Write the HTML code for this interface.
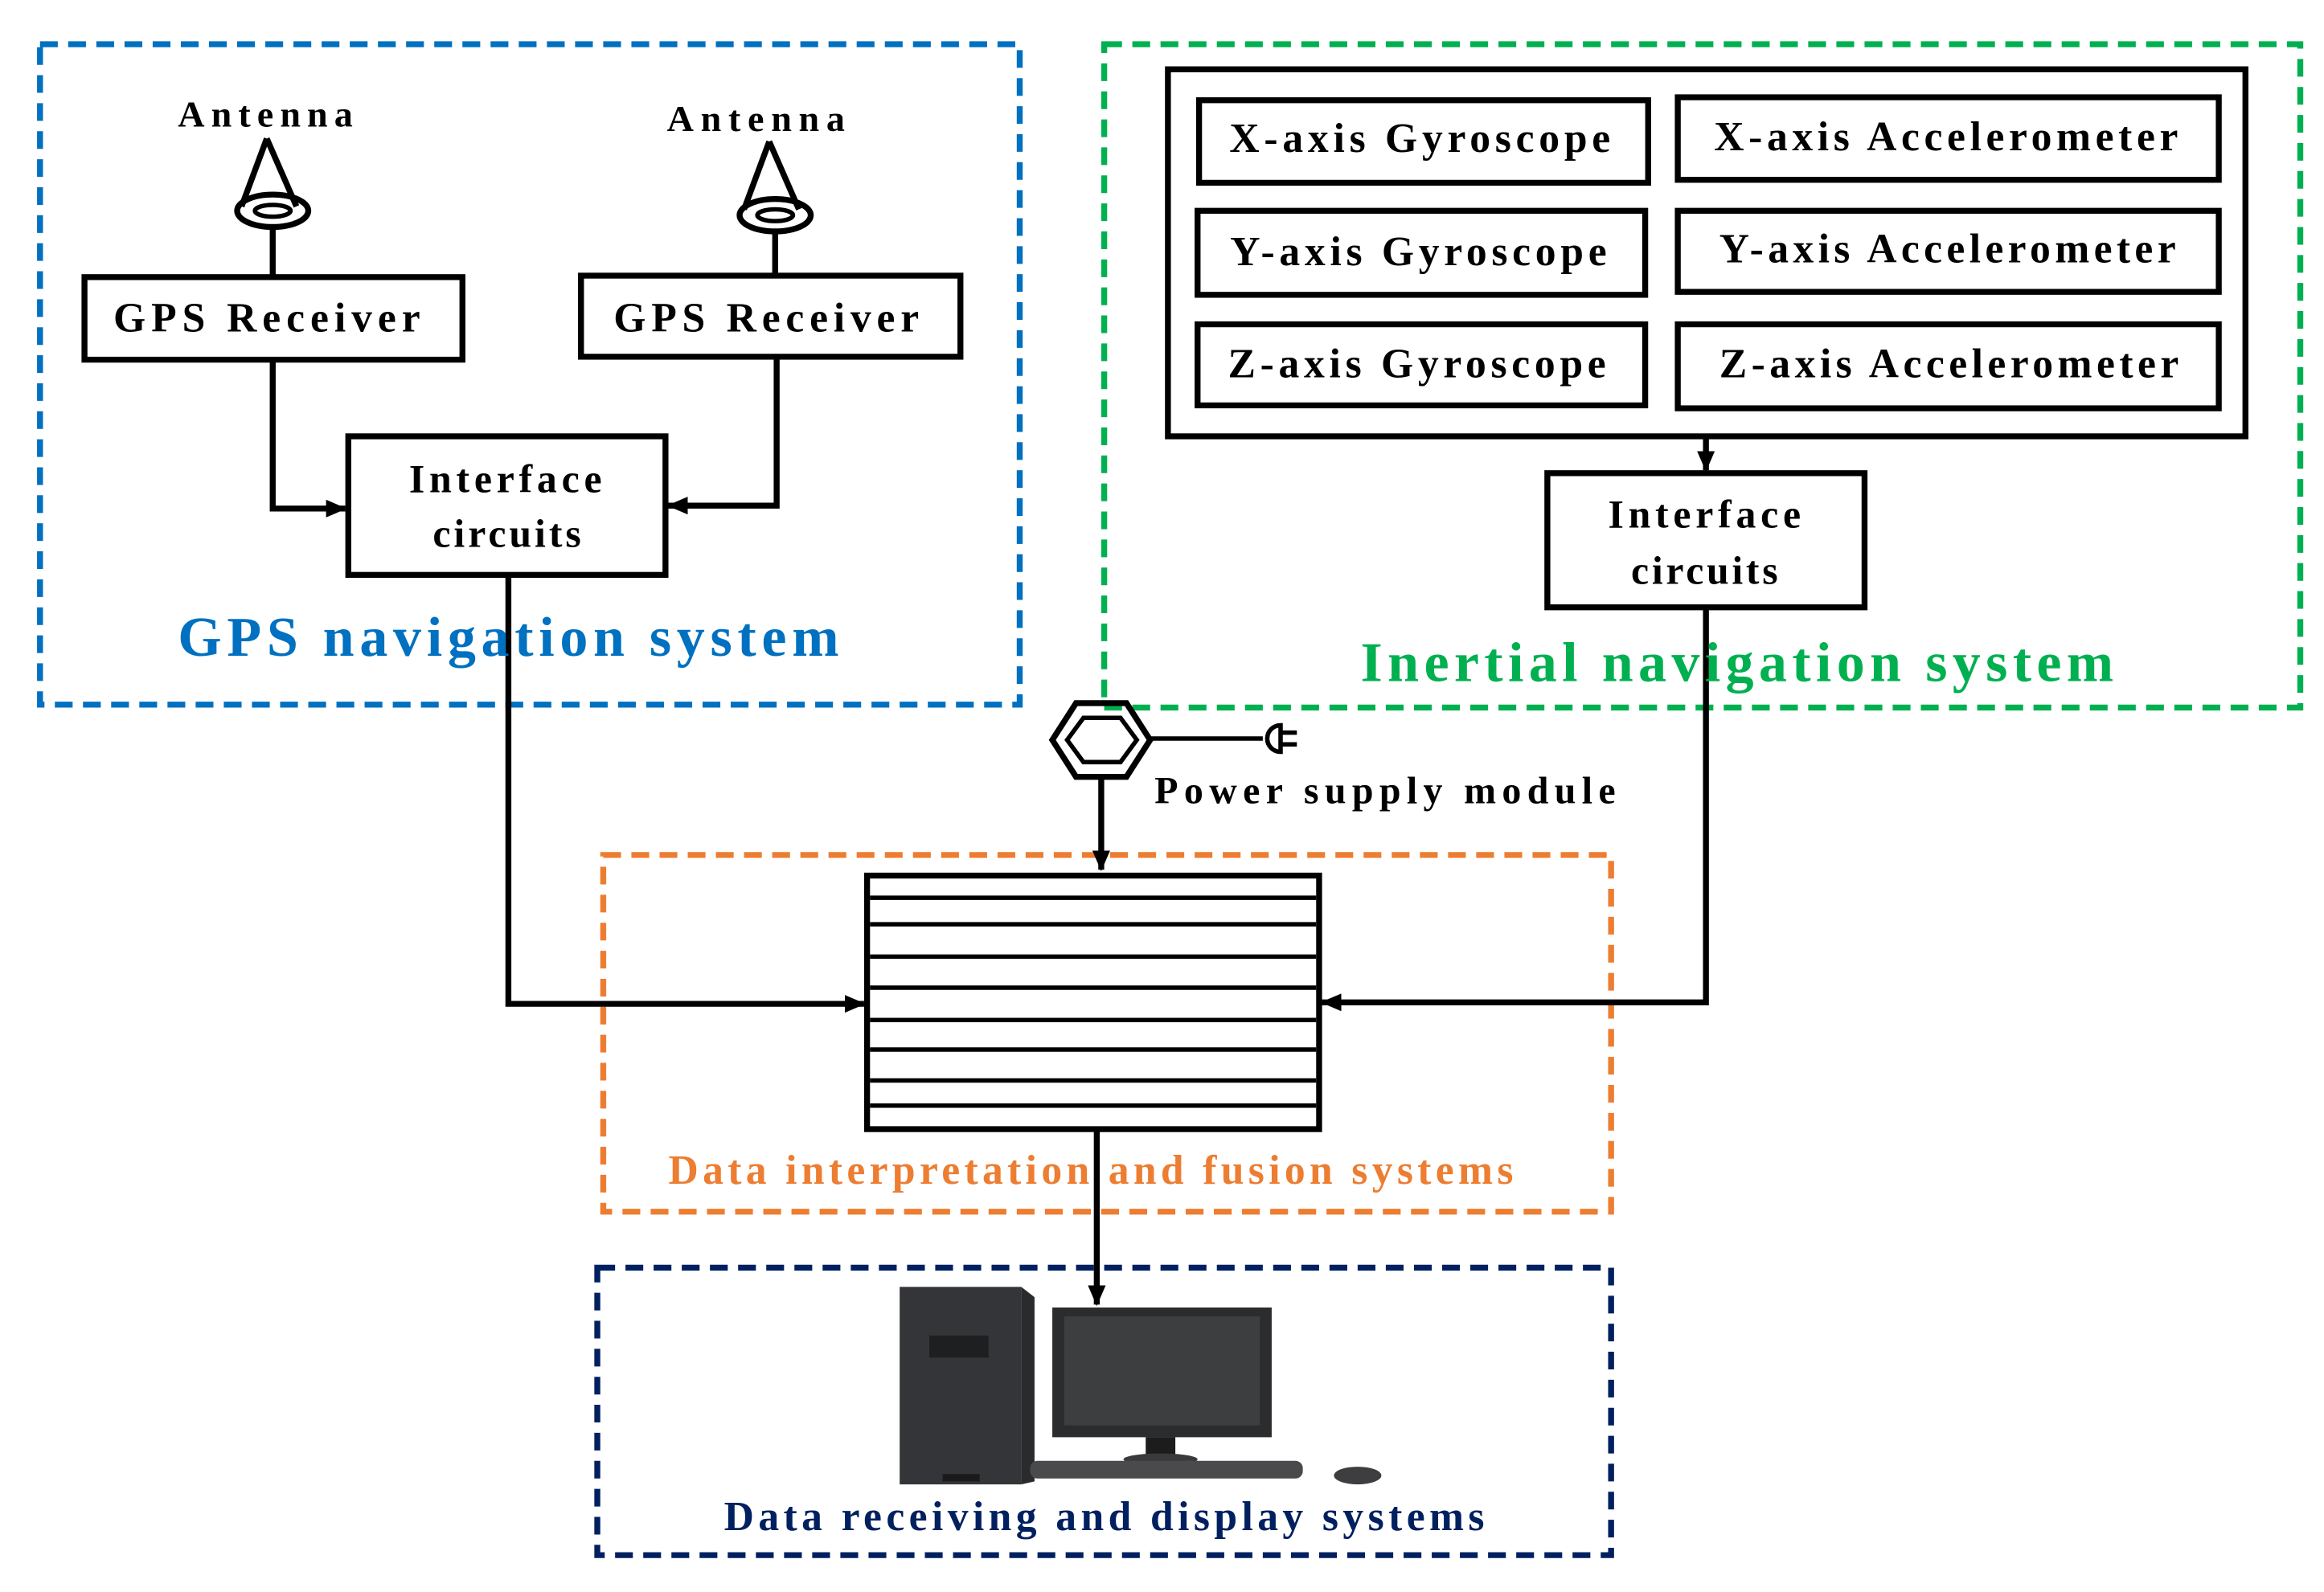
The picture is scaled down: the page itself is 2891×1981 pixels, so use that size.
<!DOCTYPE html>
<html><head><meta charset="utf-8"><style>
html,body{margin:0;padding:0;background:#fff;}
svg{display:block;}
text{font-family:"Liberation Serif",serif;font-weight:bold;}
</style></head><body>
<svg width="2891" height="1981" viewBox="0 0 1568 1080" preserveAspectRatio="none" xmlns="http://www.w3.org/2000/svg">
<defs>
<marker id="ah" markerWidth="14" markerHeight="12" refX="13" refY="6" orient="auto" markerUnits="userSpaceOnUse">
<path d="M0,0 L14,6 L0,12 Z" fill="#000"/></marker>
</defs>
<rect width="1568" height="1080" fill="#fff"/>
<rect x="27" y="30" width="661" height="448" fill="none" stroke="#0070C0" stroke-width="4" stroke-dasharray="12,7"/>
<rect x="745" y="30" width="807" height="450" fill="none" stroke="#00B050" stroke-width="4" stroke-dasharray="12,7"/>
<rect x="407" y="580" width="680" height="242" fill="none" stroke="#ED7D31" stroke-width="4" stroke-dasharray="12,7"/>
<rect x="403" y="860" width="684" height="195" fill="none" stroke="#002060" stroke-width="4" stroke-dasharray="12,7"/>

<g fill="none" stroke="#000" stroke-width="4">
<path d="M180,94 L163,140 M180,94 L200,140"/>
<ellipse cx="184" cy="143" rx="24" ry="11"/>
<ellipse cx="184" cy="143" rx="12" ry="4" stroke-width="3"/>
<line x1="184" y1="154" x2="184" y2="188"/>
<path d="M519,96 L502,142 M519,96 L539,142"/>
<ellipse cx="523" cy="146" rx="24" ry="11"/>
<ellipse cx="523" cy="146" rx="12" ry="4" stroke-width="3"/>
<line x1="523" y1="157" x2="523" y2="187"/>
<rect x="57" y="188" width="255" height="56"/>
<rect x="392" y="187" width="256" height="55"/>
<rect x="235" y="296" width="214" height="94"/>
<rect x="788" y="47" width="727" height="249"/>
<rect x="809" y="68" width="303" height="56"/>
<rect x="1132" y="66" width="365" height="56"/>
<rect x="808" y="143" width="302" height="57"/>
<rect x="1132" y="143" width="365" height="55"/>
<rect x="808" y="220" width="302" height="55"/>
<rect x="1132" y="220" width="365" height="57"/>
<rect x="1044" y="321" width="214" height="91"/>
<rect x="585" y="594" width="305" height="172"/>
</g>
<g stroke="#000" stroke-width="3">
<line x1="587" y1="609" x2="888" y2="609"/>
<line x1="587" y1="627" x2="888" y2="627"/>
<line x1="587" y1="649" x2="888" y2="649"/>
<line x1="587" y1="670" x2="888" y2="670"/>
<line x1="587" y1="692" x2="888" y2="692"/>
<line x1="587" y1="712" x2="888" y2="712"/>
<line x1="587" y1="733" x2="888" y2="733"/>
<line x1="587" y1="750" x2="888" y2="750"/>
</g>
<g fill="none" stroke="#000" stroke-width="4">
<polyline points="184,244 184,345 233,345" marker-end="url(#ah)"/>
<polyline points="524,242 524,343 451,343" marker-end="url(#ah)"/>
<polyline points="343,390 343,681 583,681" marker-end="url(#ah)"/>
<line x1="1151" y1="296" x2="1151" y2="319" marker-end="url(#ah)"/>
<polyline points="1151,412 1151,680 892,680" marker-end="url(#ah)"/>
<line x1="743" y1="528" x2="743" y2="590" marker-end="url(#ah)"/>
<line x1="740" y1="766" x2="740" y2="885" marker-end="url(#ah)"/>
<polygon points="726,477 760,477 776,502 760,527 726,527 710,502"/>
<polygon points="731,487 756,487 767,502 756,517 731,517 720,502" stroke-width="3"/>
<line x1="776" y1="501" x2="852" y2="501" stroke-width="3"/>
<path d="M864,492 A9,9 0 1 0 864,510 Z" stroke-width="3"/>
<line x1="864" y1="497" x2="875" y2="497" stroke-width="3"/>
<line x1="864" y1="505" x2="875" y2="505" stroke-width="3"/>
</g>
<rect x="607" y="873" width="82" height="134" fill="#333538"/>
<polygon points="689,873 698,880 698,1005 689,1007" fill="#2a2b2d"/>
<rect x="627" y="906" width="40" height="15" fill="#1e1f21"/>
<rect x="636" y="1000" width="25" height="5" fill="#1a1a1a"/>
<rect x="710" y="887" width="148" height="88" fill="#2b2c2e"/>
<rect x="718" y="893" width="132" height="74" fill="#3d3e40"/>
<rect x="773" y="975" width="20" height="14" fill="#1c1c1c"/>
<ellipse cx="783" cy="990" rx="25" ry="4" fill="#3a3a3a"/>
<rect x="695" y="991" width="184" height="12" rx="5" fill="#4a4a4c"/>
<ellipse cx="916" cy="1001" rx="16" ry="6" fill="#3e3e40"/>
<g text-anchor="middle" fill="#000" lengthAdjust="spacing">
<text x="179" y="86" font-size="25" textLength="118" lengthAdjust="spacing">Antenna</text>
<text x="510" y="89" font-size="25" textLength="120" lengthAdjust="spacing">Antenna</text>
<text x="180" y="225" font-size="28" textLength="207" lengthAdjust="spacing">GPS Receiver</text>
<text x="517" y="225" font-size="28" textLength="206" lengthAdjust="spacing">GPS Receiver</text>
<text x="341" y="334" font-size="27" textLength="130" lengthAdjust="spacing">Interface</text>
<text x="342" y="371" font-size="27" textLength="100" lengthAdjust="spacing">circuits</text>
<text x="958" y="103" font-size="28" textLength="257" lengthAdjust="spacing">X-axis Gyroscope</text>
<text x="1313" y="102" font-size="28" textLength="313" lengthAdjust="spacing">X-axis Accelerometer</text>
<text x="957" y="180" font-size="28" textLength="254" lengthAdjust="spacing">Y-axis Gyroscope</text>
<text x="1314" y="178" font-size="28" textLength="308" lengthAdjust="spacing">Y-axis Accelerometer</text>
<text x="956" y="256" font-size="28" textLength="255" lengthAdjust="spacing">Z-axis Gyroscope</text>
<text x="1315" y="256" font-size="28" textLength="310" lengthAdjust="spacing">Z-axis Accelerometer</text>
<text x="1150" y="358" font-size="27" textLength="130" lengthAdjust="spacing">Interface</text>
<text x="1150" y="396" font-size="27" textLength="99" lengthAdjust="spacing">circuits</text>
<text x="343" y="445" font-size="38" fill="#0070C0" textLength="446" lengthAdjust="spacing">GPS navigation system</text>
<text x="1172" y="462" font-size="38" fill="#00B050" textLength="508" lengthAdjust="spacing">Inertial navigation system</text>
<text x="736" y="803" font-size="28" fill="#ED7D31" textLength="570" lengthAdjust="spacing">Data interpretation and fusion systems</text>
<text x="745" y="1038" font-size="28" fill="#002060" textLength="513" lengthAdjust="spacing">Data receiving and display systems</text>
</g>
<text x="779" y="545" font-size="26" textLength="311" lengthAdjust="spacing">Power supply module</text>
</svg>
</body></html>
